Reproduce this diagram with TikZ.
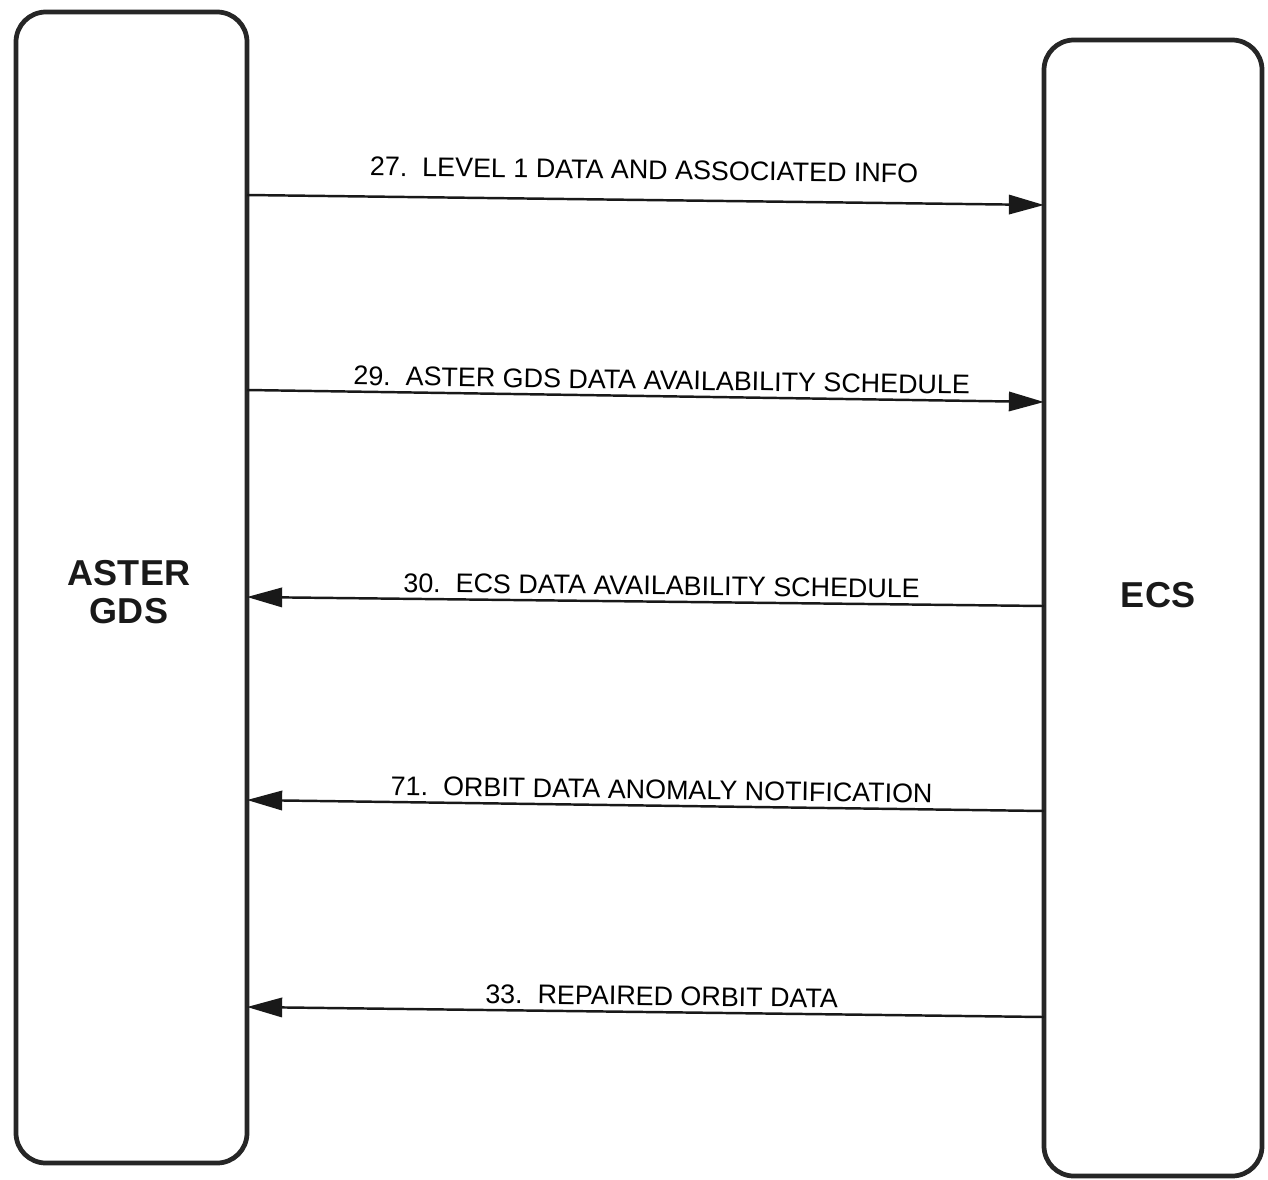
\documentclass[tikz,border=0pt]{standalone}
\usepackage{fontspec}
\setmainfont{Liberation Sans}
\usetikzlibrary{arrows.meta}
\begin{document}
\begin{tikzpicture}[x=0.02cm,y=-0.02cm,
  sysbox/.style={draw=black!85,line width=2.7pt,rounded corners=17pt,inner sep=0pt},
  flow/.style={line width=1.4pt,draw=black!90,-{Triangle[length=20pt,width=11pt]}},
  flowlabel/.style={font=\fontsize{15.3}{18}\selectfont,inner sep=1pt,anchor=south,sloped},
  syslabel/.style={font=\fontsize{20.5}{21.5}\selectfont\bfseries,align=center,text=black!90}]
\useasboundingbox (0,0) rectangle (1268,1180);
\node[sysbox,minimum width=231*0.02cm,minimum height=1151*0.02cm] (gds) at (131.5,587.5) {};
\node[sysbox,minimum width=218*0.02cm,minimum height=1136*0.02cm] (ecs) at (1153,608) {};
\node[syslabel] (gdst) at (129,592) {ASTER\\GDS};
\node[syslabel] (ecst) at (1158,595) {ECS};
% connector end points on the box borders
\coordinate (a1) at (247,195);  \coordinate (b1) at (1044,205);
\coordinate (a2) at (247,390);  \coordinate (b2) at (1044,402);
\coordinate (a3) at (247,597);  \coordinate (b3) at (1044,606);
\coordinate (a4) at (247,800);  \coordinate (b4) at (1044,811);
\coordinate (a5) at (247,1007); \coordinate (b5) at (1044,1017);
\draw[flow] (a1) -- node[flowlabel,pos=0.5,xshift=-1pt,yshift=10pt] {27.\ \ LEVEL 1 DATA AND ASSOCIATED INFO} (b1);
\draw[flow] (a2) -- node[flowlabel,pos=0.52,yshift=2pt] {29.\ \ ASTER GDS DATA AVAILABILITY SCHEDULE} (b2);
\draw[flow] (b3) -- node[flowlabel,pos=0.48,yshift=2pt] {30.\ \ ECS DATA AVAILABILITY SCHEDULE} (a3);
\draw[flow] (b4) -- node[flowlabel,pos=0.48,yshift=2pt] {71.\ \ ORBIT DATA ANOMALY NOTIFICATION} (a4);
\draw[flow] (b5) -- node[flowlabel,pos=0.48,yshift=2pt] {33.\ \ REPAIRED ORBIT DATA} (a5);
\end{tikzpicture}
\end{document}
